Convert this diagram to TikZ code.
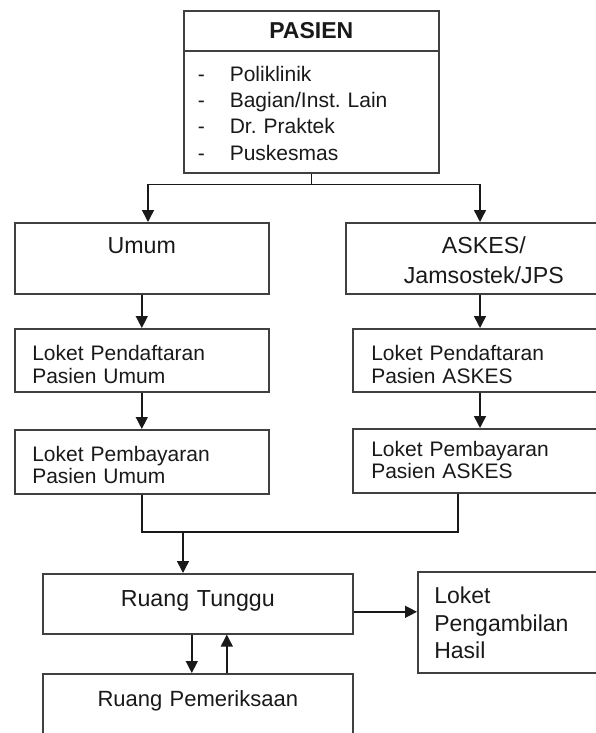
\documentclass[tikz,border=0pt]{standalone}
\usepackage{fontspec}
\setmainfont{Liberation Sans}
\usetikzlibrary{arrows.meta}
\frenchspacing

\begin{document}
\begin{tikzpicture}[x=1pt,y=-1pt,
  kotak/.style={draw=black!75,line width=1.6pt,anchor=north west,inner ysep=0pt,inner xsep=0pt,text=black!90,font={\fontsize{21}{23}\selectfont}},
  garis/.style={line width=1.5pt,black!90},
  panah/.style={garis,-{Triangle[length=12pt,width=12pt]}}]
\useasboundingbox (0,0) rectangle (596,733);
\clip (0,0) rectangle (596,733);
\node[kotak,text width=255pt,align=center,text height=28pt,text depth=12pt,font={\fontsize{23}{23}\selectfont\bfseries}] (pasien) at (183,10) {PASIEN};
\node[kotak,text width=227pt,inner xsep=14pt,align=left,text height=30.5pt,text depth=91.5pt,font={\fontsize{21}{26.3}\selectfont}] (sumber) at (183,50)
  {\makebox[32pt][l]{-}Poliklinik\\\makebox[32pt][l]{-}Bagian/Inst. Lain\\\makebox[32pt][l]{-}Dr. Praktek\\\makebox[32pt][l]{-}Puskesmas};
\node[kotak,text width=254pt,align=center,text height=31pt,text depth=40pt,font={\fontsize{23.2}{30}\selectfont}] (umum) at (14,222) {Umum};
\node[kotak,text width=276pt,align=center,text height=31pt,text depth=40pt,font={\fontsize{23.2}{30}\selectfont}] (askes) at (345,222) {ASKES/\\Jamsostek/JPS};
\node[kotak,text width=219pt,inner xsep=17.5pt,align=left,text height=31.5pt,text depth=31.5pt] (daftarA) at (14,328) {Loket Pendaftaran\\Pasien Umum};
\node[kotak,text width=219pt,inner xsep=17.5pt,align=left,text height=31.5pt,text depth=32.5pt,font={\fontsize{21}{22.5}\selectfont}] (bayarA) at (14,429) {Loket Pembayaran\\Pasien Umum};
\node[kotak,text width=219pt,inner xsep=18.5pt,align=left,text height=31.5pt,text depth=31.5pt] (daftarB) at (352,328) {Loket Pendaftaran\\Pasien ASKES};
\node[kotak,text width=219pt,inner xsep=18.5pt,align=left,text height=27.5pt,text depth=36.5pt,font={\fontsize{21}{22.5}\selectfont}] (bayarB) at (352,428) {Loket Pembayaran\\Pasien ASKES};
\node[kotak,text width=310pt,align=center,text height=33pt,text depth=27pt,font={\fontsize{23.2}{23}\selectfont}] (tunggu) at (42,573) {Ruang Tunggu};
\node[kotak,text width=190pt,inner xsep=16.5pt,align=left,text height=32pt,text depth=69pt,font={\fontsize{23}{27.5}\selectfont}] (ambil) at (417,571) {Loket\\Pengambilan\\Hasil};
\node[kotak,text width=310pt,align=center,text height=32.5pt,text depth=32pt,font={\fontsize{22}{23}\selectfont}] (periksa) at (42,673) {Ruang Pemeriksaan};
\draw[garis] (sumber.south) -- ++(0,11) coordinate (cabang);
\draw[panah] (cabang) -| ([xshift=134pt]umum.north west);
\draw[panah] (cabang) -| ([xshift=135pt]askes.north west);
\draw[panah] (umum.south) -- (daftarA.north);
\draw[panah] (daftarA.south) -- (bayarA.north);
\draw[panah] ([xshift=135pt]askes.south west) -- ([xshift=128pt]daftarB.north west);
\draw[panah] ([xshift=128pt]daftarB.south west) -- ([xshift=128pt]bayarB.north west);
\coordinate (gabung) at (183,532);
\draw[garis] (bayarA.south) |- (gabung) -| ([xshift=106pt]bayarB.south west);
\draw[panah] (gabung) -- (gabung |- tunggu.north);
\coordinate (keluar) at ([yshift=-8pt]tunggu.east);
\draw[panah] (keluar) -- (keluar -| ambil.west);
\draw[panah] ([xshift=-6pt]tunggu.south) -- ([xshift=-6pt]periksa.north);
\draw[panah] ([xshift=29pt]periksa.north) -- ([xshift=29pt]tunggu.south);
\end{tikzpicture}
\end{document}
